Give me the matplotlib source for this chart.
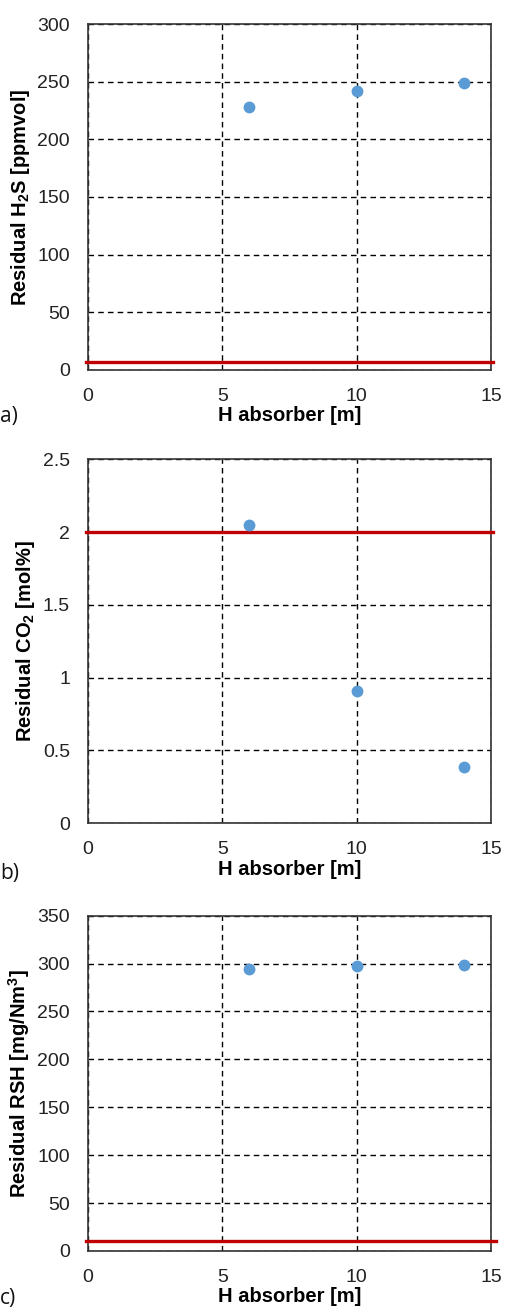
import matplotlib
matplotlib.use("Agg")
import matplotlib.pyplot as plt

plt.rcParams['font.family'] = ['Liberation Sans', 'DejaVu Sans']
plt.rcParams['mathtext.default'] = 'regular'

# data
h_absorber = [6, 10, 14]
h2s_residual = [228, 242, 249]
co2_residual = [2.05, 0.91, 0.39]
rsh_residual = [294, 297.5, 298]

h2s_limit = 7
co2_limit = 2
rsh_limit = 10

x_ticks = [0, 5, 10, 15]
h2s_ticks = [0, 50, 100, 150, 200, 250, 300]
co2_ticks = [0, 0.5, 1, 1.5, 2, 2.5]
rsh_ticks = [0, 50, 100, 150, 200, 250, 300, 350]

panels = [
    dict(rect=[0.1739, 0.7180, 0.7965, 0.2637], y=h2s_residual, limit=h2s_limit,
         yticks=h2s_ticks, ylabels=[str(t) for t in h2s_ticks],
         ylabel=r'Residual H$_{2}$S [ppmvol]', tag='a)', tag_y=0.678, line_end=1.004),
    dict(rect=[0.1739, 0.3725, 0.7965, 0.2774], y=co2_residual, limit=co2_limit,
         yticks=co2_ticks, ylabels=['0', '0.5', '1', '1.5', '2', '2.5'],
         ylabel=r'Residual CO$_{2}$ [mol%]', tag='b)', tag_y=0.330, line_end=1.004),
    dict(rect=[0.1739, 0.0465, 0.7965, 0.2556], y=rsh_residual, limit=rsh_limit,
         yticks=rsh_ticks, ylabels=[str(t) for t in rsh_ticks],
         ylabel=r'Residual RSH [mg/Nm$^{3}$]', tag='c)', tag_y=0.006, line_end=1.012),
]

fig = plt.figure(figsize=(5.06, 13.12), dpi=100)

for p in panels:
    ax = fig.add_axes(p['rect'])
    ax.set_xlim(0, 15)
    ax.set_ylim(p['yticks'][0], p['yticks'][-1])
    ax.set_xticks(x_ticks)
    ax.set_yticks(p['yticks'])
    ax.set_yticklabels(p['ylabels'])
    ax.grid(True, color='black', linestyle=(0, (4, 3)), linewidth=1.0)
    ax.set_axisbelow(True)
    ax.tick_params(length=0, labelsize=14, colors='#222222', pad=13)
    for s in ax.spines.values():
        s.set_color('#333333')
        s.set_linewidth(1.2)
    ax.axhline(p['limit'], xmin=-0.004, xmax=p['line_end'], color='#C00000', linewidth=2.4,
               clip_on=False, zorder=3)
    ax.plot(h_absorber, p['y'], 'o', color='#5B9BD5', markersize=7.5, zorder=4)
    ax.set_xlabel('H absorber [m]', fontsize=14.5, fontweight='bold', labelpad=1)
    ax.set_ylabel(p['ylabel'], fontsize=14.5, fontweight='bold', labelpad=4)
    fig.text(0.0, p['tag_y'], p['tag'], fontsize=15, family='Open Sans', color='#111111')

fig.savefig('out.png', dpi=100)
